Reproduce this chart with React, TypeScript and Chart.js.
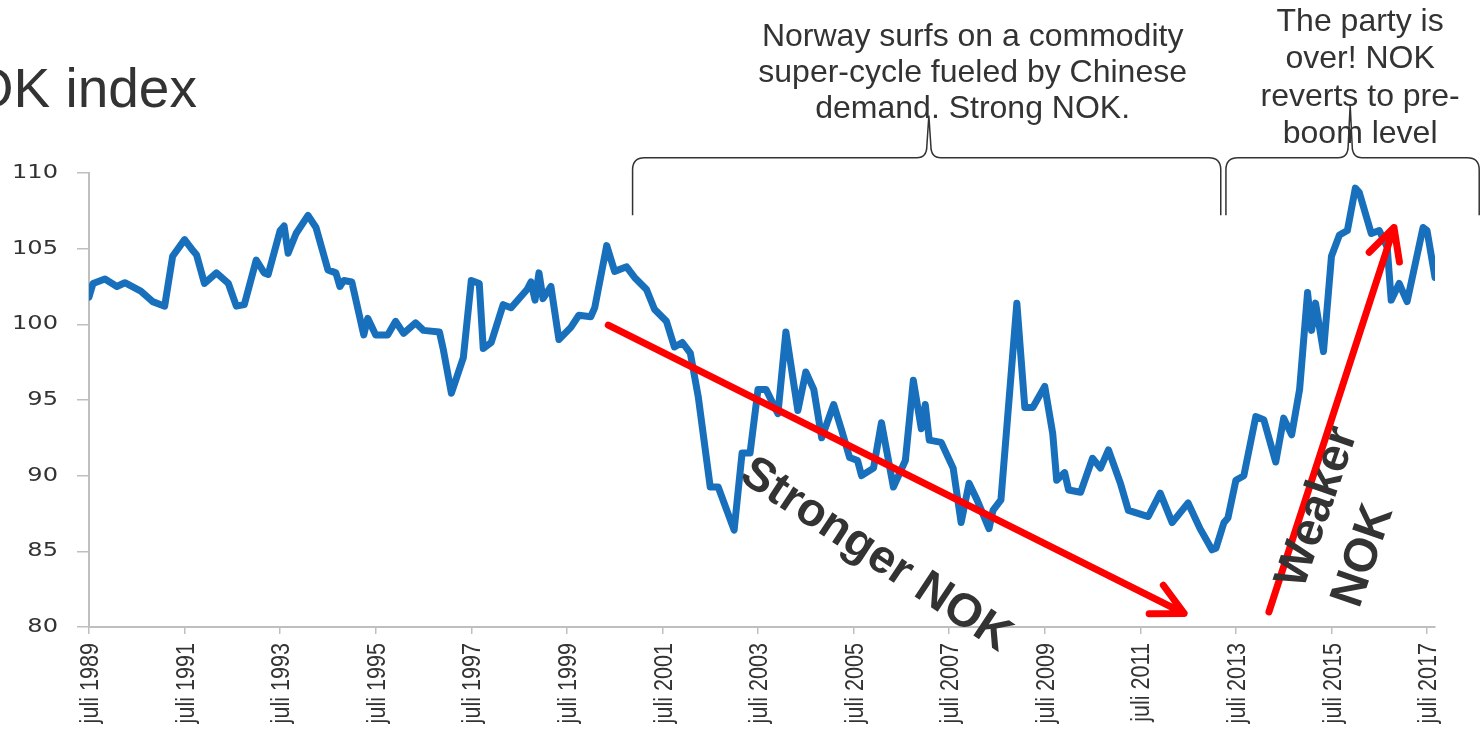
import React, { useEffect, useRef } from "react";
import { Chart, registerables } from "chart.js";

Chart.register(...registerables);

// ---- data (x = months since July 1989) ----
const monthsFromJul1989 = [
  0, 1, 4, 7, 9, 13, 16, 19, 21, 24, 26, 27, 29, 32, 35, 37, 39, 42, 44, 45, 48, 49, 50, 52, 55, 57,
  60, 62, 63, 64, 66, 69, 70, 72, 75, 77, 79, 82, 84, 88, 89, 91, 94, 96, 98, 99, 101, 104, 106, 110,
  111, 112, 113, 114, 116, 118, 121, 123, 126, 127, 130, 132, 135, 137, 140, 142, 145, 147, 149, 151,
  153, 156, 158, 162, 164, 166, 168, 170, 173, 175, 178, 180, 182, 184, 187, 189, 191, 193, 194, 197,
  199, 202, 205, 207, 209, 210, 211, 214, 217, 219, 221, 223, 226, 227, 229, 233, 235, 237, 240, 242,
  243, 245, 246, 249, 252, 254, 256, 259, 261, 266, 269, 272, 276, 279, 282, 283, 285, 286, 288, 290,
  293, 295, 298, 300, 302, 304, 306, 307, 308, 310, 312, 314, 316, 318, 319, 322, 324, 326, 327, 329,
  331, 335, 336, 338,
];
const nokIndex = [
  101.8, 102.7, 103.0, 102.5, 102.75, 102.2, 101.5, 101.2, 104.5, 105.6, 104.9, 104.6, 102.7, 103.4,
  102.7, 101.2, 101.3, 104.25, 103.4, 103.3, 106.2, 106.5, 104.7, 106.0, 107.2, 106.4,
  103.6, 103.4, 102.5, 102.9, 102.8, 99.3, 100.4, 99.3, 99.3, 100.2, 99.4, 100.1, 99.6, 99.5, 98.3,
  95.45, 97.8, 102.9, 102.7, 98.4, 98.8, 101.3, 101.1, 102.3,
  102.8, 101.6, 103.4, 101.7, 102.5, 99.0, 99.8, 100.6, 100.5, 101.1, 105.2, 103.5, 103.8, 103.1,
  102.3, 101.0, 100.2, 98.5, 98.8, 98.1,
  95.2, 89.25, 89.25, 86.4, 91.5, 91.5, 95.7, 95.7, 94.1, 99.5, 94.3, 96.85, 95.7, 92.5, 94.7, 93.0,
  91.2, 91.0, 90.0, 90.5,
  93.5, 89.25, 91.0, 96.3, 93.1, 94.7, 92.35, 92.2, 90.5, 86.9, 89.5, 88.4, 86.5, 87.7, 88.4, 101.4,
  94.5, 94.5, 95.9, 92.8,
  89.7, 90.2, 89.05, 88.9, 91.15, 90.5, 91.7, 89.5, 87.7, 87.3, 88.85, 86.9, 88.2, 86.5, 85.1, 85.2,
  86.9, 87.2, 89.7, 90.0,
  93.9, 93.7, 90.9, 93.8, 92.7, 95.7, 102.1, 99.6, 101.4, 98.2, 104.5, 105.9, 106.2, 109.0, 108.7,
  106.0, 106.2, 105.1, 101.6, 102.7,
  101.5, 106.4, 106.2, 103.1,
];
const xTickMonths = [0, 24, 48, 72, 96, 120, 144, 168, 192, 216, 240, 264, 288, 312, 336];
const xTickLabels = [
  "juli 1989", "juli 1991", "juli 1993", "juli 1995", "juli 1997", "juli 1999", "juli 2001",
  "juli 2003", "juli 2005", "juli 2007", "juli 2009", "juli 2011", "juli 2013", "juli 2015", "juli 2017",
];
const yTickValues = [80, 85, 90, 95, 100, 105, 110];

const titleText = "NOK index";
const boomNote = ["Norway surfs on a commodity", "super-cycle fueled by Chinese", "demand. Strong NOK."];
const bustNote = ["The party is", "over! NOK", "reverts to pre-", "boom level"];
const strongerLabel = ["Stronger NOK"];
const weakerLabel = ["Weaker", "NOK"];

// ---- annotation geometry (in data units: x = months, y = index) ----
const arrows = [
  { from: [130.4, 99.95], to: [275, 80.9] },
  { from: [296.3, 81.0], to: [327.7, 106.4] },
];
const braces = [
  { x0: 136.5, x1: 284.2, xc: 210.9, yBase: 111, yEnd: 107.2, yTip: 113.8 },
  { x0: 285.5, x1: 349.1, xc: 316.7, yBase: 111, yEnd: 107.2, yTip: 114.5 },
];

const TEXT = "#333333";
const SANS = "'Liberation Sans', Arial, sans-serif";

const annotationPlugin = {
  id: "nokAnnotations",
  afterDraw(chart: any) {
    const { ctx } = chart;
    const xs = chart.scales.x;
    const ys = chart.scales.y;
    const px = (v: number) => xs.getPixelForValue(v);
    const py = (v: number) => ys.getPixelForValue(v);
    ctx.save();

    // y tick labels (wide digits, as in the reference)
    ctx.fillStyle = TEXT;
    ctx.font = "19px 'DejaVu Sans', sans-serif";
    ctx.textAlign = "right";
    ctx.textBaseline = "middle";
    yTickValues.forEach((v) => {
      ctx.save();
      ctx.translate(xs.left - 31, py(v));
      ctx.scale(1.27, 1);
      ctx.fillText(String(v), 0, 0);
      ctx.restore();
    });

    // x tick labels (condensed, rotated)
    ctx.font = `26px ${SANS}`;
    ctx.textAlign = "right";
    ctx.textBaseline = "middle";
    xTickMonths.forEach((m, i) => {
      ctx.save();
      ctx.translate(px(m) + 2, ys.bottom + 16);
      ctx.rotate(-Math.PI / 2);
      ctx.scale(0.83, 1);
      ctx.fillText(xTickLabels[i], 0, 0);
      ctx.restore();
    });

    // title (partially cut off on the left, as in the reference)
    ctx.font = `55px ${SANS}`;
    ctx.textAlign = "left";
    ctx.textBaseline = "alphabetic";
    ctx.fillText(titleText, -69, 107);

    // notes
    ctx.font = `32px ${SANS}`;
    ctx.textAlign = "center";
    boomNote.forEach((line, i) => ctx.fillText(line, px(221.9), py(118.4) + i * 36));
    bustNote.forEach((line, i) => ctx.fillText(line, px(319.2), py(119.4) + i * 37.5));

    // braces
    ctx.strokeStyle = "#333333";
    ctx.lineWidth = 1.5;
    braces.forEach((b) => {
      const L = px(b.x0), R = px(b.x1), C = px(b.xc);
      const yb = py(b.yBase), ye = py(b.yEnd), yt = py(b.yTip);
      const r = 12;
      ctx.beginPath();
      ctx.moveTo(L, ye);
      ctx.lineTo(L, yb + r);
      ctx.quadraticCurveTo(L, yb, L + r, yb);
      ctx.lineTo(C - r, yb);
      ctx.quadraticCurveTo(C - 2, yb, C - 2, yb - r);
      ctx.lineTo(C, yt);
      ctx.lineTo(C + 2, yb - r);
      ctx.quadraticCurveTo(C + 2, yb, C + r, yb);
      ctx.lineTo(R - r, yb);
      ctx.quadraticCurveTo(R, yb, R, yb + r);
      ctx.lineTo(R, ye);
      ctx.stroke();
    });

    // red arrows
    ctx.strokeStyle = "#ff0000";
    ctx.lineWidth = 7;
    ctx.lineCap = "round";
    ctx.lineJoin = "round";
    arrows.forEach((a) => {
      const x0 = px(a.from[0]), y0 = py(a.from[1]);
      const x1 = px(a.to[0]), y1 = py(a.to[1]);
      const ang = Math.atan2(y1 - y0, x1 - x0);
      const len = 35, spread = (27 * Math.PI) / 180;
      ctx.beginPath();
      ctx.moveTo(x0, y0);
      ctx.lineTo(x1, y1);
      ctx.moveTo(x1 - len * Math.cos(ang - spread), y1 - len * Math.sin(ang - spread));
      ctx.lineTo(x1, y1);
      ctx.lineTo(x1 - len * Math.cos(ang + spread), y1 - len * Math.sin(ang + spread));
      ctx.stroke();
    });

    // arrow labels
    ctx.fillStyle = TEXT;
    ctx.font = `bold 47px ${SANS}`;
    ctx.textBaseline = "middle";

    ctx.save();
    ctx.translate(px(197.5), py(84.75));
    ctx.rotate((33.5 * Math.PI) / 180);
    ctx.textAlign = "center";
    strongerLabel.forEach((line, i) => ctx.fillText(line, 0, i * 59));
    ctx.restore();

    ctx.save();
    ctx.translate(px(301.8), py(82.7));
    ctx.rotate((-71 * Math.PI) / 180);
    ctx.textAlign = "left";
    weakerLabel.forEach((line, i) => ctx.fillText(line, 0, i * 59));
    ctx.restore();

    ctx.restore();
  },
};

export default function App() {
  const canvasRef = useRef<HTMLCanvasElement | null>(null);

  useEffect(() => {
    const canvas = canvasRef.current;
    if (!canvas) return;
    const axisColor = "#bfbfbf";
    const chart = new Chart(canvas, {
      type: "line",
      data: {
        datasets: [
          {
            label: "NOK index",
            data: monthsFromJul1989.map((m, i) => ({ x: m, y: nokIndex[i] })),
            borderColor: "#1870bd",
            borderWidth: 7,
            pointRadius: 0,
            tension: 0,
            borderJoinStyle: "round",
            borderCapStyle: "round",
            fill: false,
          },
        ],
      },
      options: {
        responsive: false,
        maintainAspectRatio: false,
        animation: false,
        devicePixelRatio: 1,
        layout: { padding: { top: 173, right: 45, left: 0, bottom: 0 } },
        plugins: {
          legend: { display: false },
          tooltip: { enabled: false },
          title: { display: false },
        },
        scales: {
          x: {
            type: "linear",
            min: 0,
            max: 338,
            afterBuildTicks: (scale: any) => {
              scale.ticks = xTickMonths.map((v) => ({ value: v }));
            },
            afterFit: (scale: any) => {
              scale.height = 106;
              scale.paddingLeft = 0;
              scale.paddingRight = 0;
            },
            grid: {
              display: true,
              drawOnChartArea: false,
              drawTicks: true,
              tickLength: 7,
              color: axisColor,
              lineWidth: 1.5,
            },
            border: { display: true, color: axisColor, width: 2 },
            ticks: {
              autoSkip: false,
              maxRotation: 90,
              minRotation: 90,
              padding: 8,
              color: "rgba(0,0,0,0)",
              font: { family: "'Liberation Sans', sans-serif", size: 20 },
              callback: (value: any) => {
                const i = xTickMonths.indexOf(Number(value));
                return i >= 0 ? xTickLabels[i] : "";
              },
            },
          },
          y: {
            type: "linear",
            min: 80,
            max: 110,
            afterBuildTicks: (scale: any) => {
              scale.ticks = yTickValues.map((v) => ({ value: v }));
            },
            afterFit: (scale: any) => {
              scale.width = 89;
              scale.paddingTop = 0;
              scale.paddingBottom = 0;
            },
            grid: {
              display: true,
              drawOnChartArea: false,
              drawTicks: true,
              tickLength: 12,
              color: axisColor,
              lineWidth: 1.5,
            },
            border: { display: true, color: axisColor, width: 2 },
            ticks: {
              padding: 19,
              color: "rgba(0,0,0,0)",
              font: { family: "'DejaVu Sans', sans-serif", size: 19 },
            },
          },
        },
      },
      plugins: [annotationPlugin],
    } as any);
    return () => chart.destroy();
  }, []);

  return (
    <div style={{ position: "fixed", left: 0, top: 0, width: 1480, height: 733, background: "#ffffff" }}>
      <canvas ref={canvasRef} width={1480} height={733} style={{ width: 1480, height: 733, display: "block" }} />
    </div>
  );
}
